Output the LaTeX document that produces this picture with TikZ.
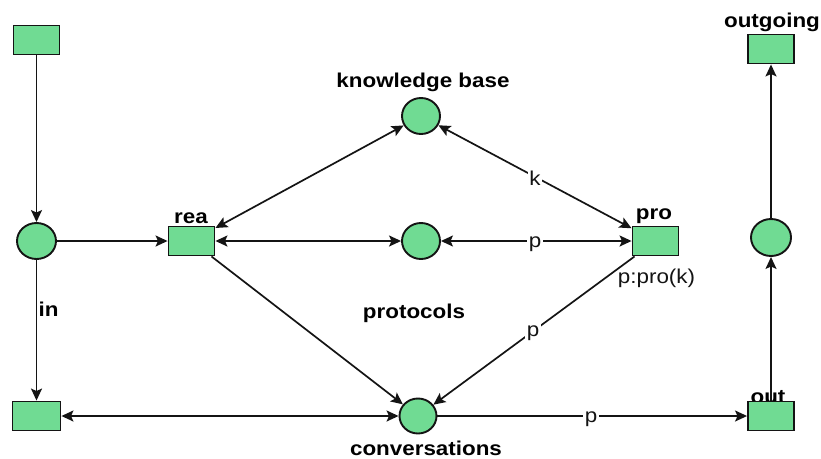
\documentclass[tikz,border=0pt]{standalone}
\usepackage{fontspec}
\setmainfont{Liberation Sans}[FakeStretch=1.12]
\usetikzlibrary{arrows.meta,shapes.geometric}
\definecolor{netgreen}{RGB}{112,219,147}
\definecolor{netline}{RGB}{20,20,20}
\begin{document}
\begin{tikzpicture}[x=1pt,y=-1pt,
  nettip/.tip={Stealth[length=12pt,width=11pt,inset=2.5pt]},
  trans/.style={draw=netline,line width=1.9pt,fill=netgreen,rectangle,
    minimum width=46pt,minimum height=29pt,inner sep=0pt},
  place/.style={draw=netline,line width=1.9pt,fill=netgreen,ellipse,
    minimum width=39pt,minimum height=36pt,inner sep=0pt},
  nlabel/.style={font=\fontsize{20}{24}\selectfont\bfseries,text=black,
    anchor=base,inner sep=0pt},
  inscr/.style={font=\fontsize{20}{24}\selectfont,text=netline,
    anchor=base,inner sep=1.5pt},
  arc/.style={draw=netline,line width=1.7pt,-nettip},
  biarc/.style={draw=netline,line width=1.7pt,nettip-nettip},
]
\fill[white] (0,0) rectangle (821,458);
\useasboundingbox (0,0) rectangle (821,458);

% names of places and transitions
\node[nlabel] (lrea) at (191,223) {rea};
\node[nlabel] (lkb) at (423,87.5) {knowledge base};
\node[nlabel] (lpro) at (654,219) {pro};
\node[nlabel] (lout) at (772,27.5) {outgoing};
\node[nlabel] (lin) at (48.5,316) {in};
\node[nlabel] (lprot) at (414,318.5) {protocols};
\node[nlabel] (lconv) at (426,455) {conversations};
\node[nlabel] (lo) at (768,403) {out};
\node[inscr] (lguard) at (656.5,283.5) {p:pro(k)};

% transitions
\node[trans] (t0) at (36.5,40) {};
\node[trans] (rea) at (191.5,241) {};
\node[trans] (pro) at (655.5,241) {};
\node[trans] (outgoing) at (771,49) {};
\node[trans,minimum width=48pt] (tin) at (36.5,416) {};
\node[trans] (out) at (771,416) {};

% places
\node[place] (pin) at (36.5,241) {};
\node[place,minimum width=38pt] (kb) at (421,116) {};
\node[place,minimum width=38pt] (mid) at (421,241) {};
\node[place,minimum width=40pt,minimum height=37pt] (rp) at (771,237.5) {};
\node[place,minimum width=37pt,minimum height=35pt] (conv) at (418,416) {};

% arcs
\draw[arc] (t0) -- (pin);
\draw[arc] (pin) -- (rea);
\draw[arc] (pin) -- (tin);
\draw[biarc] (rea) -- (kb);
\draw[biarc] (rea) -- (mid);
\draw[biarc] (mid) -- (pro);
\draw[biarc] (kb) -- (pro);
\draw[arc] (rea) -- (conv);
\draw[arc] (pro) -- (conv);
\draw[biarc] (tin) -- (conv);
\draw[arc] (conv) -- (out);
\draw[arc] (out) -- (rp);
\draw[arc] (rp) -- (outgoing);

% arc inscriptions
\node[inscr,fill=white] (ik) at (535,185) {k};
\node[inscr,fill=white] (ip1) at (535,247) {p};
\node[inscr,fill=white] (ip2) at (533,336) {p};
\node[inscr,fill=white] (ip3) at (591,422) {p};
\end{tikzpicture}
\end{document}
